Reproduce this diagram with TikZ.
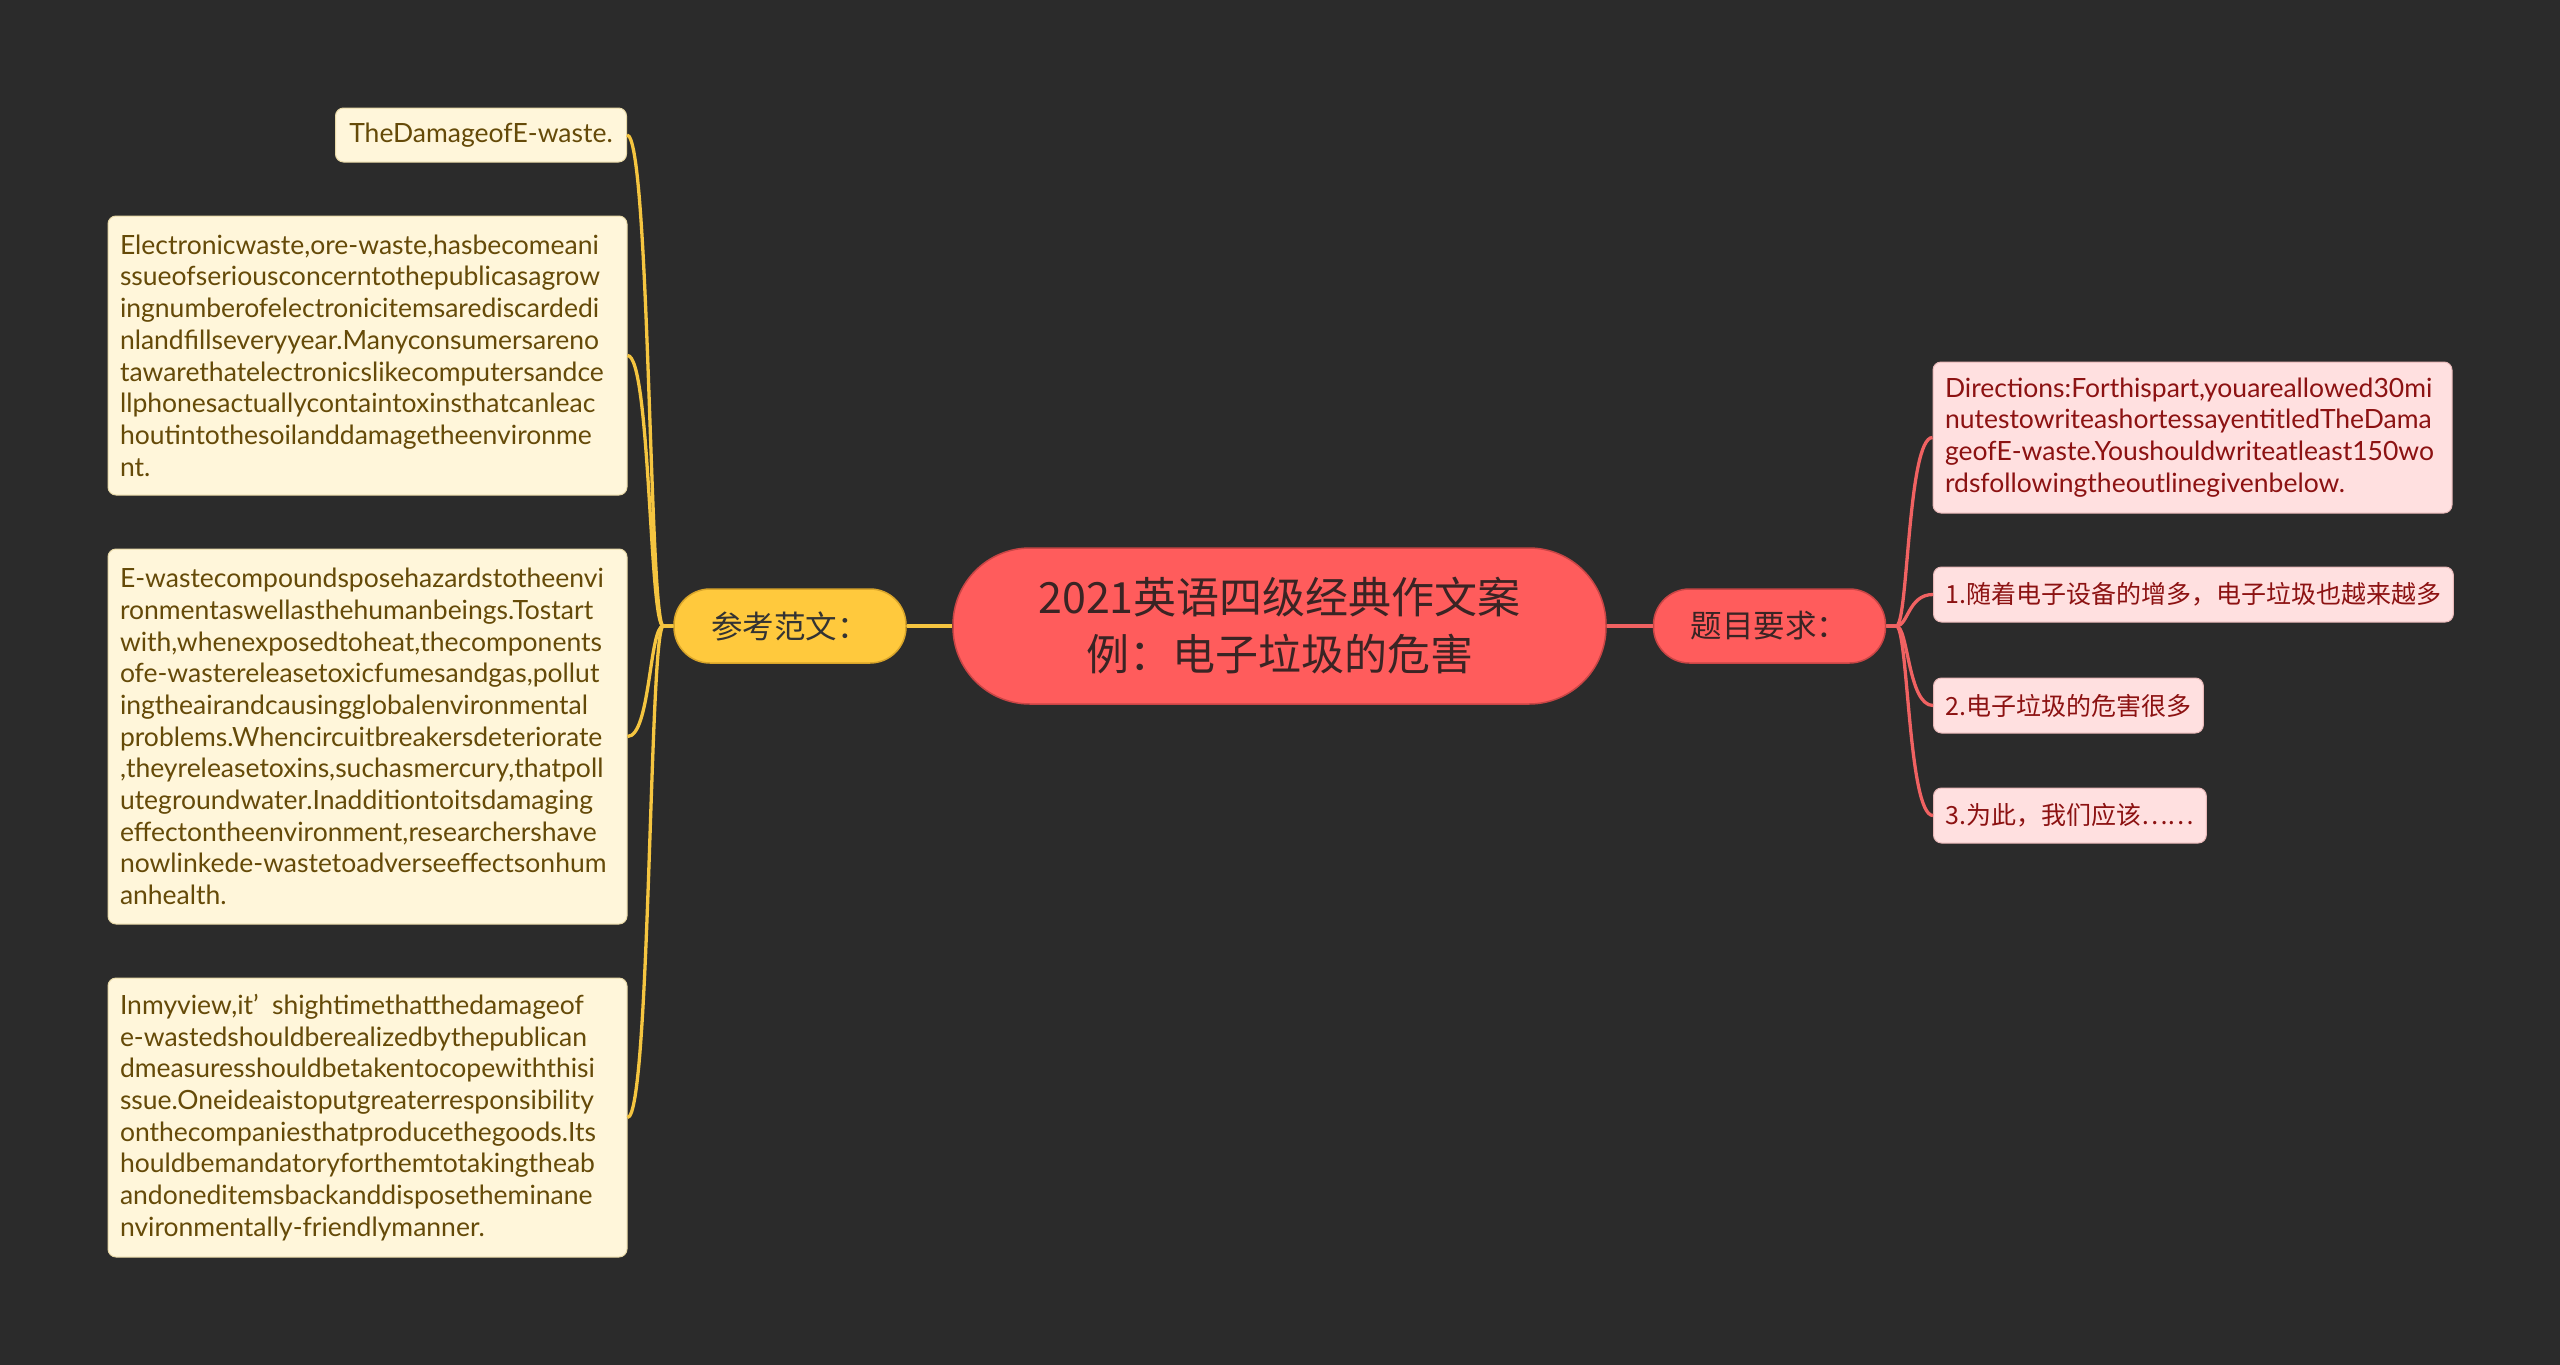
\documentclass[tikz,border=0pt]{standalone}
\usepackage{fontspec}
\newfontfamily\cjk{Noto Sans CJK SC}
\newfontfamily\latf{Lato}
\definecolor{bg}{HTML}{2B2B2B}
\definecolor{rootfill}{HTML}{FF5C5C}
\definecolor{rootedge}{HTML}{C94545}
\definecolor{roottext}{HTML}{3A2424}
\definecolor{goldfill}{HTML}{FFC93D}
\definecolor{goldedge}{HTML}{D9A52A}
\definecolor{darktext}{HTML}{333333}
\definecolor{cream}{HTML}{FFF6DA}
\definecolor{creamedge}{HTML}{E8D9A8}
\definecolor{browntext}{HTML}{654A08}
\definecolor{pink}{HTML}{FFE0E0}
\definecolor{pinkedge}{HTML}{E8B8B8}
\definecolor{redtext}{HTML}{8C1212}
\definecolor{yline}{HTML}{F5C540}
\definecolor{rline}{HTML}{F06262}
\begin{document}
\begin{tikzpicture}[x=1pt,y=-1pt,
  rootnode/.style={draw=rootedge, line width=1.5pt, fill=rootfill, rounded corners=77pt,
    minimum width=653pt, minimum height=156pt, align=center, text=roottext,
    font=\cjk\fontsize{43}{57}\selectfont},
  goldbranch/.style={draw=goldedge, line width=1.5pt, fill=goldfill, rounded corners=36pt,
    minimum width=232pt, minimum height=74pt, text=darktext, font=\cjk\fontsize{31.5}{36}\selectfont},
  redbranch/.style={draw=rootedge, line width=1.5pt, fill=rootfill, rounded corners=36pt,
    minimum width=232pt, minimum height=74pt, text=roottext, font=\cjk\fontsize{31.5}{36}\selectfont},
  leafL/.style={draw=creamedge, line width=1pt, fill=cream, rounded corners=8pt, text=browntext,
    font=\latf\fontsize{26.5}{31.7}\selectfont, inner xsep=12pt, inner ysep=10pt, align=left},
  leafR/.style={draw=pinkedge, line width=1pt, fill=pink, rounded corners=8pt, text=redtext,
    font=\latf\fontsize{26.5}{31.7}\selectfont, inner xsep=12pt, inner ysep=10pt, align=left},
  leafRc/.style={leafR, font=\cjk\fontsize{25}{31.7}\selectfont, minimum height=55pt},
  yconn/.style={draw=yline, line width=3.3pt},
  rconn/.style={draw=rline, line width=3.3pt}
]
\useasboundingbox (0,0) rectangle (2560,1365);
\fill[bg] (0,0) rectangle (2560,1365);

% root and branches
\node[rootnode] (root) at (1279.5,626) {2021英语四级经典作文案\\例：电子垃圾的危害};
\node[goldbranch] (ck) at (790,626) {参考范文：};
\node[redbranch] (tm) at (1769.5,626) {题目要求：};

% left leaves
\node[leafL, minimum width=291pt, minimum height=54pt, anchor=east] (l1) at (627,135) {TheDamageofE-waste.};
\node[leafL, text width=495pt, minimum height=279pt] (l2) at (367.5,355.5) {Electronicwaste,ore-waste,hasbecomeani\\
ssueofseriousconcerntothepublicasagrow\\
ingnumberofelectronicitemsarediscardedi\\
nlandfillseveryyear.Manyconsumersareno\\
tawarethatelectronicslikecomputersandce\\
llphonesactuallycontaintoxinsthatcanleac\\
houtintothesoilanddamagetheenvironme\\
nt.};
\node[leafL, text width=495pt, minimum height=375pt] (l3) at (367.5,736.5) {E-wastecompoundsposehazardstotheenvi\\
ronmentaswellasthehumanbeings.Tostart\\
with,whenexposedtoheat,thecomponents\\
ofe-wastereleasetoxicfumesandgas,pollut\\
ingtheairandcausingglobalenvironmental\\
problems.Whencircuitbreakersdeteriorate\\
,theyreleasetoxins,suchasmercury,thatpoll\\
utegroundwater.Inadditiontoitsdamaging\\
effectontheenvironment,researchershave\\
nowlinkede-wastetoadverseeffectsonhum\\
anhealth.};
\node[leafL, text width=495pt, minimum height=279pt] (l4) at (367.5,1117.5) {Inmyview,it’\hspace{0.5em}shightimethatthedamageof\\
e-wastedshouldberealizedbythepublican\\
dmeasuresshouldbetakentocopewiththisi\\
ssue.Oneideaistoputgreaterresponsibility\\
onthecompaniesthatproducethegoods.Its\\
houldbemandatoryforthemtotakingtheab\\
andoneditemsbackanddisposetheminane\\
nvironmentally-friendlymanner.};

% right leaves
\node[leafR, text width=495pt, minimum height=151pt] (r0) at (2192.5,437.5) {Directions:Forthispart,youareallowed30mi\\
nutestowriteashortessayentitledTheDama\\
geofE-waste.Youshouldwriteatleast150wo\\
rdsfollowingtheoutlinegivenbelow.};
\node[leafRc, anchor=west] (r1) at (1933,594.5) {1.随着电子设备的增多，电子垃圾也越来越多};
\node[leafRc, anchor=west] (r2) at (1933,705.5) {2.电子垃圾的危害很多};
\node[leafRc, anchor=west] (r3) at (1933,815.5) {3.为此，我们应该……};

% connectors root-branches
\draw[yconn] (ck.east) -- (root.west);
\draw[rconn] (root.east) -- (tm.west);

% left connectors
\foreach \c in {l1,l2,l3,l4}{
  \draw[yconn] (ck.west) -- ++(-10,0) .. controls +(-14,0) and +(23,0) .. (\c.east);
}
% right connectors
\foreach \c in {r0,r1,r2,r3}{
  \draw[rconn] (tm.east) -- ++(10,0) .. controls +(12,0) and +(-25,0) .. (\c.west);
}
\end{tikzpicture}
\end{document}
